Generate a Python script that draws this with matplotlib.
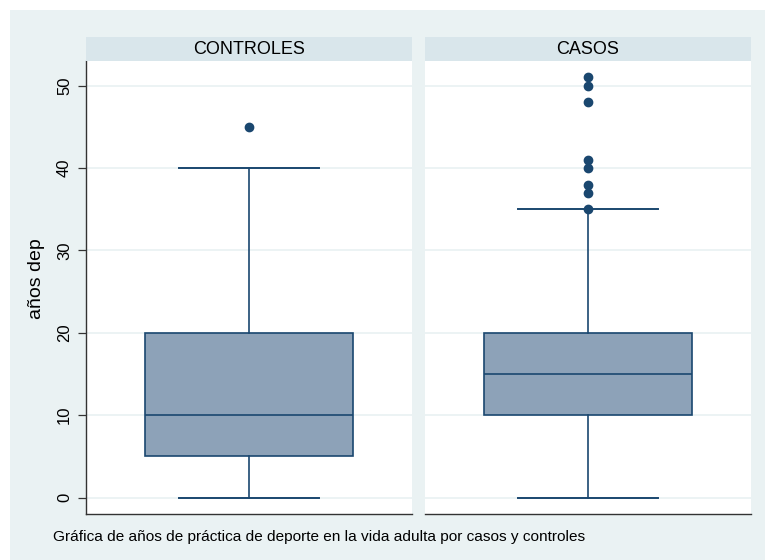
import matplotlib
matplotlib.use("Agg")
import matplotlib.pyplot as plt
from matplotlib.patches import Rectangle

plt.rcParams["font.family"] = ["Liberation Sans", "DejaVu Sans"]

# Summary statistics of "años dep" by group
groups = ["CONTROLES", "CASOS"]
whisker_low = [0, 0]
q1 = [5, 10]
median = [10, 15]
q3 = [20, 20]
whisker_high = [40, 35]
outliers = [
    [45],
    [35, 37, 38, 40, 41, 48, 50, 51],
]
yticks = [0, 10, 20, 30, 40, 50]
ylabel = "años dep"
caption = "Gráfica de años de práctica de deporte en la vida adulta por casos y controles"

W, H = 765, 560
bg = "#EAF2F3"
strip_bg = "#D9E6EB"
navy = "#1A476F"
box_fill = "#8DA2B8"

fig = plt.figure(figsize=(W / 100, H / 100), dpi=100)
fig.patch.set_facecolor("white")
fig.add_artist(Rectangle((10 / W, 0), 1 - 10 / W, (H - 10) / H,
                         transform=fig.transFigure, facecolor=bg,
                         edgecolor="none", zorder=0))


def fx(px):
    return px / W


def fy(py):
    return (H - py) / H


panels_x = [(86, 412), (425, 751)]
top, bottom, strip_top = 61, 514, 37

for i, (x0, x1) in enumerate(panels_x):
    ax = fig.add_axes([fx(x0), fy(bottom), fx(x1 - x0), fy(top) - fy(bottom)])
    ax.set_facecolor("white")
    stats = [dict(med=median[i], q1=q1[i], q3=q3[i],
                  whislo=whisker_low[i], whishi=whisker_high[i],
                  fliers=outliers[i])]
    ax.bxp(stats, positions=[0.5], widths=0.64, capwidths=0.427,
           patch_artist=True, showfliers=True,
           boxprops=dict(facecolor=box_fill, edgecolor=navy, linewidth=1.2),
           medianprops=dict(color=navy, linewidth=1.2),
           whiskerprops=dict(color=navy, linewidth=1.2),
           capprops=dict(color=navy, linewidth=1.4),
           flierprops=dict(marker="o", markerfacecolor=navy,
                           markeredgecolor=navy, markersize=6))
    ax.set_xlim(0, 1)
    ax.set_ylim(-2, 53)
    ax.set_xticks([])
    ax.set_yticks(yticks)
    ax.yaxis.grid(True, color=bg, linewidth=1.3)
    ax.set_axisbelow(True)
    for s in ("top", "right"):
        ax.spines[s].set_visible(False)
    ax.spines["bottom"].set_color("#333333")
    ax.spines["bottom"].set_linewidth(1.0)
    if i == 0:
        ax.spines["left"].set_color("#333333")
        ax.spines["left"].set_linewidth(1.0)
        ax.tick_params(axis="y", length=6, width=0.9, color="#333333",
                       labelsize=12, pad=4)
        for lab in ax.get_yticklabels():
            lab.set_rotation(90)
            lab.set_va("center")
        ax.set_ylabel(ylabel, fontsize=14)
        ax.yaxis.set_label_coords((45 - x0) / (x1 - x0),
                                  (bottom - 279) / (bottom - top))
    else:
        ax.spines["left"].set_visible(False)
        ax.tick_params(axis="y", length=0, labelleft=False)

    # strip title
    sax = fig.add_axes([fx(x0), fy(top), fx(x1 - x0), fy(strip_top) - fy(top)])
    sax.set_facecolor(strip_bg)
    sax.set_xticks([])
    sax.set_yticks([])
    for s in sax.spines.values():
        s.set_visible(False)
    sax.text(0.5, 0.5, groups[i], ha="center", va="center", fontsize=13,
             transform=sax.transAxes)

fig.text(fx(53), fy(537), caption, ha="left", va="center", fontsize=11.1)

fig.savefig("out.png", dpi=100)
